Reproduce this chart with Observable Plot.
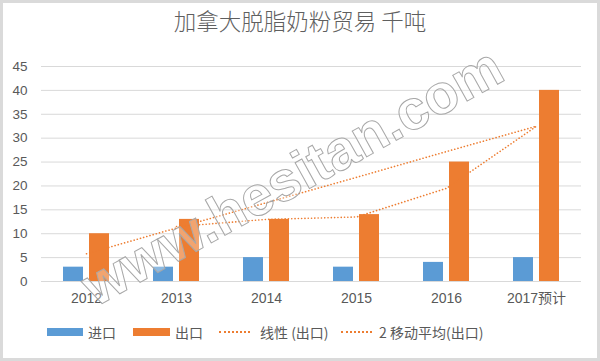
<!DOCTYPE html>
<html>
<head>
<meta charset="utf-8">
<script src="https://cdn.jsdelivr.net/npm/d3@7"></script>
<script src="https://cdn.jsdelivr.net/npm/@observablehq/plot@0.6"></script>
<style>
  html, body { margin: 0; padding: 0; background: #fff; }
  #wrap { position: relative; width: 600px; height: 361px; overflow: hidden; background: #fff;
          font-family: "Noto Sans CJK SC", "Liberation Sans", sans-serif; color: #595959; }
  #frame { position: absolute; left: 0; top: 0; width: 600px; height: 361px; box-sizing: border-box;
           border: 3px solid #dadada; pointer-events: none; }
  #title { position: absolute; left: 0; top: 4px; width: 600px; text-align: center; font-size: 22.5px; font-weight: 300; color: #5f5f5f; }
  #chart { position: absolute; left: 0; top: 0; }
  .lg { position: absolute; top: 323px; font-size: 14px; color: #595959; line-height: 18px; white-space: nowrap; }
  .sw { position: absolute; top: 328px; height: 8px; }
  .dl { position: absolute; top: 331px; height: 0; border-top: 2px dotted #ED7D31; }
  #wm { position: absolute; left: 0; top: 0; pointer-events: none; }
</style>
</head>
<body>
<div id="wrap">
  <div id="title"></div>
  <div id="chart"></div>
  <svg id="wm" width="600" height="361"></svg>
  <div id="legend"></div>
  <div id="frame"></div>
</div>
<script>
const titleText = "加拿大脱脂奶粉贸易 千吨";
const years = ["2012", "2013", "2014", "2015", "2016", "2017预计"];
const importValues = [3, 3, 5, 3, 4, 5];
const exportValues = [10, 13, 13, 14, 25, 40];
const linearTrend = [5.8, 11.2, 16.5, 21.8, 27.2, 32.5];
const movingAverage = [null, 11.5, 13, 13.5, 19.5, 32.5];
const yTicks = [0, 5, 10, 15, 20, 25, 30, 35, 40, 45];
const seriesNames = ["进口", "出口", "线性 (出口)", "2 移动平均(出口)"];
const watermark = "www.hesitan.com";

const orange = "#ED7D31", blue = "#5B9BD5";

document.getElementById("title").textContent = titleText;

const imports = years.map((y, i) => ({year: y, value: importValues[i]}));
const exports = years.map((y, i) => ({year: y, value: exportValues[i]}));
const lin = years.map((y, i) => ({year: y, value: linearTrend[i]}));
const mov = years.map((y, i) => ({year: y, value: movingAverage[i]}));

const chart = Plot.plot({
  width: 600,
  height: 320,
  marginTop: 66,
  marginBottom: 39,
  marginLeft: 41,
  marginRight: 19,
  style: {fontFamily: "'Liberation Sans', 'Noto Sans CJK SC', sans-serif", fontSize: "13px", color: "#595959", background: "transparent"},
  x: {domain: years, paddingInner: 0.489, paddingOuter: 0.2445, label: null},
  y: {domain: [0, 45], label: null},
  marks: [
    Plot.gridY(yTicks, {stroke: "#d9d9d9", strokeOpacity: 1}),
    Plot.barY(imports, {x: "year", y: "value", fill: blue, insetRight: 26}),
    Plot.barY(exports, {x: "year", y: "value", fill: orange, insetLeft: 26}),
    Plot.line(lin, {x: "year", y: "value", stroke: orange, strokeWidth: 1.6, strokeDasharray: "0.1 3.2", strokeLinecap: "round"}),
    Plot.line(mov, {x: "year", y: "value", stroke: orange, strokeWidth: 1.6, strokeDasharray: "0.1 3.2", strokeLinecap: "round"}),
    Plot.axisY(yTicks, {tickSize: 0, tickPadding: 14, fontSize: 13.5, label: null}),
    Plot.axisX({tickSize: 0, tickPadding: 12, fontSize: 14, fontFamily: "'Liberation Sans', 'Noto Sans CJK SC', sans-serif", label: null})
  ]
});
document.getElementById("chart").appendChild(chart);

// watermark
const wm = d3.select("#wm");
wm.append("text")
  .attr("x", 292).attr("y", 176)
  .attr("text-anchor", "middle")
  .attr("dominant-baseline", "central")
  .attr("transform", "rotate(-29 292 176)")
  .attr("font-family", "'Liberation Sans', sans-serif")
  .attr("font-weight", "bold")
  .attr("font-size", 56)
  .attr("fill", "rgba(255,255,255,0.3)")
  .attr("stroke", "#a8a8a8")
  .attr("stroke-width", 1)
  .text(watermark);

// legend
const legend = document.getElementById("legend");
const items = [
  {type: "sw", color: blue, x: 47, w: 36, tx: 88, label: seriesNames[0]},
  {type: "sw", color: orange, x: 133, w: 37, tx: 175, label: seriesNames[1]},
  {type: "dl", color: orange, x: 219, w: 31, tx: 260, label: seriesNames[2]},
  {type: "dl", color: orange, x: 341, w: 31, tx: 379, label: seriesNames[3]}
];
for (const it of items) {
  const s = document.createElement("div");
  s.className = it.type;
  s.style.left = it.x + "px";
  s.style.width = it.w + "px";
  if (it.type === "sw") s.style.background = it.color;
  legend.appendChild(s);
  const t = document.createElement("div");
  t.className = "lg";
  t.style.left = it.tx + "px";
  t.textContent = it.label;
  legend.appendChild(t);
}
</script>
</body>
</html>
